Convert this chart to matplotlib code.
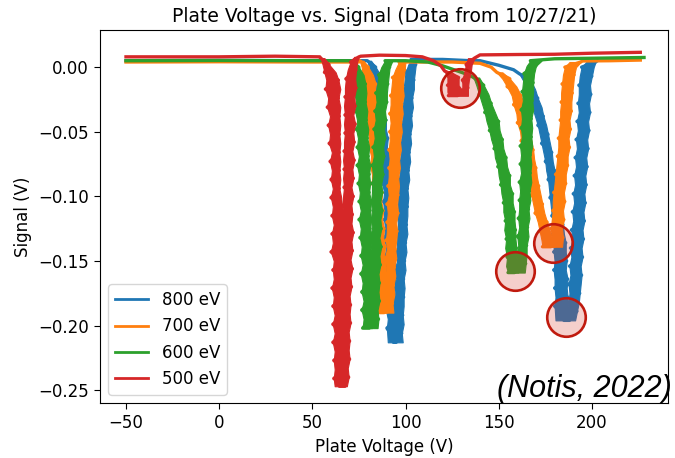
import matplotlib
matplotlib.use("Agg")
import matplotlib.pyplot as plt

labels = ["800 eV", "700 eV", "600 eV", "500 eV"]
colors = ["#1f77b4", "#ff7f0e", "#2ca02c", "#d62728"]

# Thin parts of each trace: (plate voltage V, signal V)
# Noisy dip arms: (signal V, left edge V, right edge V) of the band

# ---------------- 800 eV ----------------
base_800_a = [(-50, 0.005), (0, 0.0052), (50, 0.005), (79, 0.005)]
arm_800_1d = [
    (0.005, 79.5, 81.5), (0.000, 80.5, 84), (-0.006, 81.5, 86.5), (-0.013, 82, 88), (-0.020, 83, 87.5),
    (-0.027, 83.5, 88.5), (-0.034, 84, 88.5), (-0.041, 85, 89.5), (-0.048, 85, 89.5), (-0.055, 86, 90.5),
    (-0.062, 86, 90), (-0.069, 87, 91.5), (-0.076, 86.5, 91), (-0.083, 87.5, 92), (-0.090, 87.5, 92),
    (-0.097, 88.5, 93), (-0.104, 88, 92.5), (-0.111, 88.5, 93.5), (-0.118, 88.5, 93), (-0.125, 89, 94),
    (-0.132, 88.5, 93.5), (-0.139, 89.5, 94), (-0.146, 89, 94), (-0.153, 89.5, 94.5), (-0.160, 89, 94),
    (-0.167, 90, 94.5), (-0.174, 89.5, 94), (-0.181, 90, 95), (-0.188, 89.5, 94.5), (-0.195, 90.5, 95),
    (-0.202, 90, 94.5), (-0.213, 90.5, 95),
]
arm_800_1u = [
    (-0.213, 93.5, 98.5), (-0.206, 94, 98), (-0.199, 93.5, 99), (-0.192, 94.5, 98.5), (-0.185, 94, 99),
    (-0.178, 94.5, 99), (-0.171, 94.5, 99.5), (-0.164, 95, 99), (-0.157, 94.5, 100), (-0.150, 95.5, 99.5),
    (-0.143, 95, 100.5), (-0.136, 95.5, 100), (-0.129, 95.5, 101), (-0.122, 96, 100.5), (-0.115, 95.5, 101),
    (-0.108, 96, 101), (-0.101, 96, 101.5), (-0.094, 96.5, 101), (-0.087, 96.5, 102), (-0.080, 97, 101.5),
    (-0.073, 97, 102.5), (-0.066, 97.5, 102), (-0.059, 97.5, 103), (-0.052, 98, 102.5), (-0.045, 98, 103.5),
    (-0.038, 98.5, 103), (-0.031, 98.5, 104), (-0.024, 99, 103.5), (-0.017, 99, 104.5), (-0.010, 99.5, 104.5),
    (-0.004, 100, 105), (0.002, 101.5, 105.5), (0.006, 103, 106),
]
base_800_b = [(107, 0.006), (120, 0.006), (135, 0.005), (140, 0.005), (150, 0.0015), (158, -0.002)]
arm_800_2d = [
    (-0.005, 161, 164), (-0.010, 163, 167), (-0.017, 165, 169.5), (-0.024, 166.5, 171), (-0.031, 168, 173),
    (-0.038, 169.5, 174), (-0.045, 171, 175.5), (-0.052, 172, 176.5), (-0.059, 173, 177.5), (-0.066, 174, 178.5),
    (-0.073, 175, 179), (-0.080, 175.5, 180), (-0.087, 176.5, 180.5), (-0.094, 177, 181.5), (-0.101, 177.5, 182),
    (-0.108, 178, 183), (-0.115, 178.5, 183.5), (-0.122, 179, 184.5), (-0.129, 179, 185), (-0.136, 179.5, 186),
    (-0.143, 179.5, 186), (-0.150, 180, 186.5), (-0.157, 179.5, 186), (-0.164, 180, 187), (-0.171, 180, 186.5),
    (-0.178, 180.5, 187), (-0.185, 180, 187), (-0.196, 180.5, 188),
]
arm_800_2u = [
    (-0.196, 185, 191), (-0.189, 186.5, 192), (-0.182, 187.5, 193), (-0.175, 188, 193.5), (-0.168, 187.5, 194),
    (-0.161, 188.5, 194.5), (-0.154, 188, 194), (-0.147, 189, 195), (-0.140, 188.5, 194.5), (-0.133, 189.5, 195.5),
    (-0.126, 189, 195), (-0.119, 190, 196), (-0.112, 189.5, 195.5), (-0.105, 190.5, 196.5), (-0.098, 190, 196),
    (-0.091, 191, 197), (-0.084, 190.5, 196.5), (-0.077, 191.5, 197.5), (-0.070, 191, 197), (-0.063, 192, 198),
    (-0.056, 191.5, 197.5), (-0.049, 192.5, 198.5), (-0.042, 192, 198), (-0.035, 193, 199), (-0.028, 192.5, 198.5),
    (-0.021, 193, 199.5), (-0.014, 193, 199), (-0.007, 193.5, 200), (0.000, 194.5, 201), (0.004, 197, 202),
]
base_800_c = [(203, 0.005)]

# ---------------- 700 eV ----------------
base_700_a = [(-50, 0.004), (0, 0.0042), (50, 0.004), (75, 0.004)]
arm_700_1d = [
    (0.005, 75.5, 77.5), (0.000, 76.5, 80), (-0.006, 77, 82.5), (-0.013, 77.5, 84), (-0.020, 78, 83.5),
    (-0.027, 78.5, 84.5), (-0.034, 78.5, 84), (-0.041, 79.5, 85), (-0.048, 79.5, 84.5), (-0.055, 80.5, 85.5),
    (-0.062, 80.5, 85), (-0.069, 81.5, 86), (-0.076, 81, 86), (-0.083, 82, 87), (-0.090, 82, 86.5),
    (-0.097, 83, 87.5), (-0.104, 82.5, 87), (-0.111, 83.5, 88), (-0.118, 83, 87.5), (-0.125, 84, 88.5),
    (-0.132, 83.5, 88), (-0.139, 84.5, 89), (-0.146, 84, 88.5), (-0.153, 85, 89), (-0.160, 84.5, 89),
    (-0.167, 85, 89.5), (-0.174, 85, 89), (-0.181, 85.5, 89.5), (-0.190, 85, 90),
]
arm_700_1u = [
    (-0.190, 88.5, 93.5), (-0.183, 89, 93), (-0.176, 88.5, 94), (-0.169, 89, 93.5), (-0.162, 89, 94.5),
    (-0.155, 89.5, 94), (-0.148, 89, 95), (-0.141, 90, 94.5), (-0.134, 89.5, 95), (-0.127, 90, 95.5),
    (-0.120, 90, 95), (-0.113, 90.5, 96), (-0.106, 90, 95.5), (-0.099, 91, 96), (-0.092, 90.5, 96.5),
    (-0.085, 91, 96), (-0.078, 91, 97), (-0.071, 91.5, 96.5), (-0.064, 91, 97.5), (-0.057, 91.5, 97),
    (-0.050, 91.5, 98), (-0.043, 92, 97.5), (-0.036, 91.5, 98.5), (-0.029, 92, 98), (-0.022, 92, 99),
    (-0.015, 92.5, 98.5), (-0.008, 93, 99), (-0.002, 94.5, 99.5), (0.004, 96.5, 100),
]
base_700_b = [(101, 0.004), (125, 0.004), (140, 0.003), (146, 0.000)]
arm_700_2d = [
    (-0.004, 149, 152), (-0.009, 152, 156), (-0.015, 154.5, 159.5), (-0.022, 157, 162), (-0.029, 158, 163.5),
    (-0.036, 159.5, 164.5), (-0.043, 160, 165.5), (-0.050, 161.5, 166.5), (-0.057, 162, 167.5),
    (-0.064, 163.5, 168.5), (-0.071, 164, 169), (-0.078, 165, 170), (-0.085, 165.5, 170.5),
    (-0.092, 166.5, 171.5), (-0.099, 167.5, 172.5), (-0.106, 168.5, 173.5), (-0.113, 169.5, 174.5),
    (-0.120, 171, 176), (-0.127, 172, 177.5), (-0.134, 173, 179), (-0.139, 173.5, 180),
]
arm_700_2u = [
    (-0.139, 178, 184), (-0.132, 178.5, 184.5), (-0.125, 178, 184), (-0.118, 178.5, 185), (-0.111, 179, 184.5),
    (-0.104, 179, 185.5), (-0.097, 179.5, 185), (-0.090, 180, 186), (-0.083, 180.5, 186), (-0.076, 181, 187),
    (-0.069, 181.5, 187), (-0.062, 182, 188), (-0.055, 182, 187.5), (-0.048, 182.5, 188.5), (-0.041, 183, 188),
    (-0.034, 183, 189), (-0.027, 183.5, 189), (-0.020, 183.5, 189.5), (-0.013, 184, 190), (-0.006, 184.5, 190.5),
    (0.000, 185.5, 191.5), (0.004, 188, 194),
]
base_700_c = [(195, 0.0048), (210, 0.005), (226, 0.0055)]

# ---------------- 600 eV ----------------
base_600_a = [(-50, 0.005), (0, 0.0052), (50, 0.005), (70, 0.005)]
arm_600_1d = [
    (0.005, 70.5, 72.5), (0.000, 71.5, 75), (-0.006, 72.5, 77.5), (-0.013, 73, 78.5), (-0.020, 72.5, 79),
    (-0.027, 73.5, 78.5), (-0.034, 73, 79.5), (-0.041, 74, 79), (-0.048, 73.5, 80), (-0.055, 74.5, 79.5),
    (-0.062, 74, 80.5), (-0.069, 75, 80), (-0.076, 74, 81), (-0.083, 75, 80.5), (-0.090, 74.5, 81),
    (-0.097, 75.5, 80.5), (-0.104, 75, 81.5), (-0.111, 76, 81), (-0.118, 75, 81.5), (-0.125, 76, 81),
    (-0.132, 75.5, 82), (-0.139, 76.5, 81), (-0.146, 76, 82), (-0.153, 77, 81.5), (-0.160, 76, 82),
    (-0.167, 77, 81.5), (-0.174, 76.5, 82), (-0.181, 77.5, 81.5), (-0.188, 76.5, 82), (-0.195, 77.5, 81.5),
    (-0.202, 77, 82),
]
arm_600_1u = [
    (-0.202, 80.5, 85), (-0.195, 81, 85.5), (-0.188, 80.5, 85), (-0.181, 81, 86), (-0.174, 80.5, 85.5),
    (-0.167, 81.5, 86), (-0.160, 81, 85.5), (-0.153, 81.5, 86.5), (-0.146, 81, 86), (-0.139, 81.5, 87),
    (-0.132, 81, 86), (-0.125, 82, 87), (-0.118, 81.5, 86.5), (-0.111, 82, 87.5), (-0.104, 81.5, 86.5),
    (-0.097, 82, 87.5), (-0.090, 82, 87), (-0.083, 82.5, 88), (-0.076, 82, 87.5), (-0.069, 83, 88.5),
    (-0.062, 82.5, 88), (-0.055, 83.5, 89), (-0.048, 83, 88.5), (-0.041, 84, 89.5), (-0.034, 83.5, 89),
    (-0.027, 84.5, 90), (-0.020, 84, 90), (-0.013, 85, 90.5), (-0.006, 85.5, 91), (0.000, 87, 91.5),
    (0.005, 89, 93),
]
base_600_b = [(100, 0.005), (112, 0.004), (120, 0.001), (128, -0.003), (134, -0.006)]
arm_600_2d = [
    (-0.008, 136.5, 139.5), (-0.014, 138, 142), (-0.021, 139.5, 144.5), (-0.028, 141, 146), (-0.035, 142.5, 148),
    (-0.042, 143.5, 150), (-0.049, 145, 150.5), (-0.056, 146, 152), (-0.063, 147.5, 152.5), (-0.070, 148, 154),
    (-0.077, 149.5, 154.5), (-0.084, 150, 156), (-0.091, 151, 156), (-0.098, 151.5, 157.5),
    (-0.105, 152.5, 157.5), (-0.112, 152.5, 158.5), (-0.119, 153.5, 158.5), (-0.126, 153, 159),
    (-0.133, 154, 159), (-0.140, 153.5, 159.5), (-0.147, 154.5, 159.5), (-0.154, 154, 160), (-0.159, 155, 160.5),
]
arm_600_2u = [
    (-0.159, 158.5, 164), (-0.152, 160, 164.5), (-0.145, 159.5, 165), (-0.138, 160.5, 165), (-0.131, 160, 166),
    (-0.124, 161, 165.5), (-0.117, 160.5, 166.5), (-0.110, 161, 166), (-0.103, 161, 167), (-0.096, 161.5, 166.5),
    (-0.089, 161, 167.5), (-0.082, 162, 167), (-0.075, 161.5, 167.5), (-0.068, 162, 167), (-0.061, 161.5, 168),
    (-0.054, 162.5, 167.5), (-0.047, 162, 168), (-0.040, 162.5, 167.5), (-0.033, 162, 168.5), (-0.026, 163, 168),
    (-0.019, 162.5, 168.5), (-0.012, 163, 168.5), (-0.005, 163.5, 169), (0.001, 165, 170), (0.005, 167, 173),
]
base_600_c = [(180, 0.0065), (228, 0.0075)]

# ---------------- 500 eV ----------------
base_500_a = [(-50, 0.008), (0, 0.008), (30, 0.0085), (54, 0.008)]
arm_500_1d = [
    (0.007, 54.5, 56.5), (0.002, 55.5, 59), (-0.004, 56.5, 62.5), (-0.010, 57.5, 64), (-0.017, 57, 65),
    (-0.024, 58.5, 64), (-0.031, 58, 65), (-0.038, 59.5, 64.5), (-0.045, 58.5, 65), (-0.052, 59.5, 64.5),
    (-0.059, 59, 65), (-0.066, 60.5, 64.5), (-0.073, 59.5, 65), (-0.080, 60.5, 64.5), (-0.087, 60, 65),
    (-0.094, 61, 64.5), (-0.101, 60, 65.5), (-0.108, 61, 66), (-0.115, 60.5, 67), (-0.122, 61.5, 66.5),
    (-0.129, 60.5, 67), (-0.136, 61, 66.5), (-0.143, 60, 67), (-0.150, 61.5, 66.5), (-0.157, 61, 67),
    (-0.164, 61.5, 66.5), (-0.171, 60.5, 67), (-0.178, 61.5, 66.5), (-0.185, 61, 67), (-0.192, 62, 66.5),
    (-0.199, 61, 67), (-0.206, 62, 66.5), (-0.213, 61, 67), (-0.220, 62, 67), (-0.227, 61.5, 67.5),
    (-0.234, 62, 67), (-0.241, 61.5, 67.5), (-0.247, 62, 67.5),
]
arm_500_1u = [
    (-0.247, 64.5, 68.5), (-0.240, 65, 69.5), (-0.233, 64.5, 69), (-0.226, 65, 70), (-0.219, 65, 69.5),
    (-0.212, 64.5, 70), (-0.205, 65.5, 69.5), (-0.198, 65, 70.5), (-0.191, 65.5, 70), (-0.184, 65, 70.5),
    (-0.177, 65.5, 70), (-0.170, 65, 71), (-0.163, 66, 70.5), (-0.156, 65.5, 71.5), (-0.149, 66, 70.5),
    (-0.142, 65.5, 71.5), (-0.135, 66, 71), (-0.128, 66, 72), (-0.121, 66.5, 71), (-0.114, 66, 71.5),
    (-0.107, 66.5, 71), (-0.100, 66.5, 72), (-0.093, 67, 71), (-0.086, 66.5, 72), (-0.079, 67, 71.5),
    (-0.072, 66.5, 72.5), (-0.065, 67, 71.5), (-0.058, 67, 72.5), (-0.051, 67.5, 72), (-0.044, 67, 73),
    (-0.037, 67.5, 72), (-0.030, 67, 73), (-0.023, 67.5, 72.5), (-0.016, 67.5, 73.5), (-0.009, 68, 73),
    (-0.002, 69, 73.5), (0.004, 70.5, 74), (0.008, 72.5, 75),
]
base_500_b = [(76, 0.0085), (86, 0.0093), (100, 0.009), (109, 0.008), (115, 0.005), (119, 0.001)]
arm_500_2d = [(-0.003, 121, 124), (-0.008, 122.5, 128.5), (-0.014, 122.5, 128.5),
              (-0.019, 122.5, 131), (-0.022, 123, 133.5)]
arm_500_2u = [(-0.022, 128, 133.5), (-0.016, 130.5, 133.5), (-0.010, 130.5, 134),
              (-0.004, 131.5, 135), (0.002, 132.5, 135.5), (0.007, 133.5, 137)]
base_500_c = [(140, 0.0095), (160, 0.0098), (180, 0.010), (200, 0.0108), (226, 0.0115)]

series = [
    [base_800_a, arm_800_1d, arm_800_1u, base_800_b, arm_800_2d, arm_800_2u, base_800_c],
    [base_700_a, arm_700_1d, arm_700_1u, base_700_b, arm_700_2d, arm_700_2u, base_700_c],
    [base_600_a, arm_600_1d, arm_600_1u, base_600_b, arm_600_2d, arm_600_2u, base_600_c],
    [base_500_a, arm_500_1d, arm_500_1u, base_500_b, arm_500_2d, arm_500_2u, base_500_c],
]

# highlighted points (circled in the reference)
highlight_volts = [129.3, 158.8, 179.2, 186.2]
highlight_signal = [-0.0163, -0.158, -0.136, -0.1935]

fig = plt.figure(figsize=(6.75, 4.58), dpi=100)
ax = fig.add_axes([0.148, 0.120, 0.842, 0.814])

for pieces, lab, col in zip(series, labels, colors):
    xs, ys = [], []
    for piece in pieces:
        if len(piece[0]) == 2:
            for v, s in piece:
                xs.append(v)
                ys.append(s)
        else:
            sig = [r[0] for r in piece]
            lo = [r[1] for r in piece]
            hi = [r[2] for r in piece]
            ax.fill_betweenx(sig, lo, hi, color=col, lw=0.8, edgecolor=col, zorder=2)
            # the noisy trace swings between the two band edges
            for i, (s, l, h) in enumerate(piece):
                xs.append(l if i % 2 == 0 else h)
                ys.append(s)
    ax.plot(xs, ys, color=col, lw=2.4, label=lab, zorder=2)

ax.scatter(highlight_volts, highlight_signal, s=770, facecolor=(0.85, 0.25, 0.2, 0.25),
           edgecolor="#c01a0e", linewidth=1.9, zorder=5)

ax.set_xlim(-64, 241)
ax.set_ylim(-0.26, 0.0286)
ax.set_xticks([-50, 0, 50, 100, 150, 200])
ax.set_yticks([0.0, -0.05, -0.10, -0.15, -0.20, -0.25])
ax.set_yticklabels(["0.00", "\u22120.05", "\u22120.10", "\u22120.15", "\u22120.20", "\u22120.25"])
ax.tick_params(labelsize=12, length=4.5)
ax.set_xlabel("Plate Voltage (V)", fontsize=12)
ax.set_ylabel("Signal (V)", fontsize=12)
ax.set_title("Plate Voltage vs. Signal (Data from 10/27/21)", fontsize=13.5)

leg = ax.legend(loc="lower left", fontsize=12, handlelength=2.0)
for h in leg.get_lines():
    h.set_linewidth(2.0)

fig.text(0.737, 0.134, "(Notis, 2022)", fontsize=22, style="italic",
         family="Liberation Sans", color="black", zorder=10)

fig.savefig("out.png", dpi=100)
